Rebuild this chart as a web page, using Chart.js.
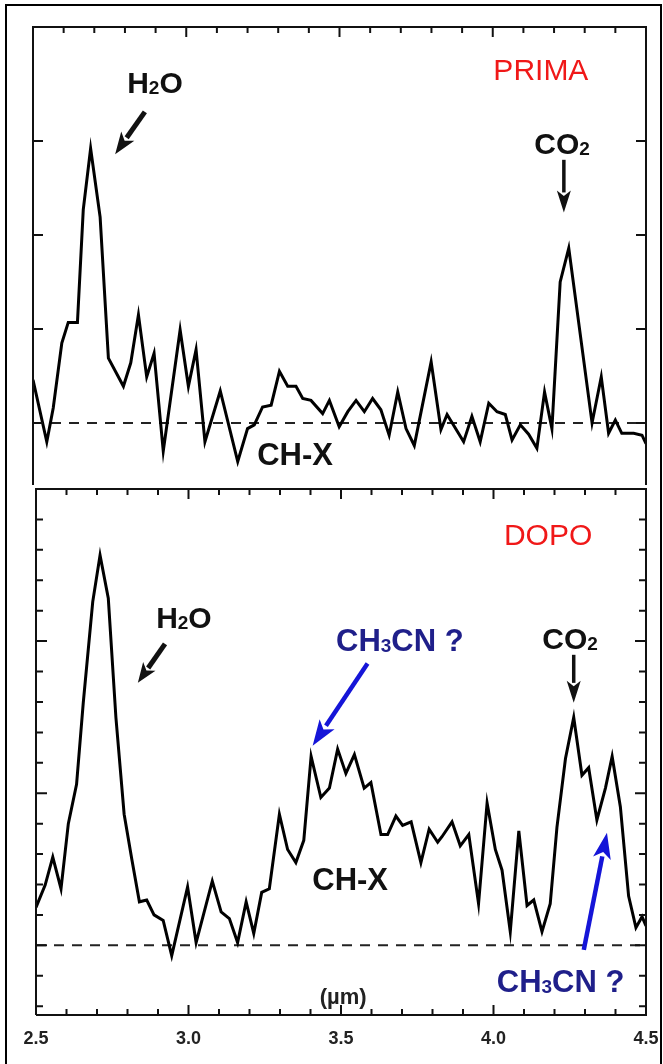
<!DOCTYPE html>
<html>
<head>
<meta charset="utf-8">
<script src="https://cdn.jsdelivr.net/npm/chart.js@4.4.1/dist/chart.umd.min.js"></script>
<style>
  body { margin: 0; background: #fff; }
  #wrap { position: relative; width: 663px; height: 1064px; overflow: hidden; background: #fff; }
  #frame { position: absolute; left: 5px; top: 4px; width: 657px; height: 1080px; border: 2px solid #000; box-sizing: border-box; }
  canvas { position: absolute; left: 0; }
  #top { top: 0; }
  #bottom { top: 480px; }
</style>
</head>
<body>
<div id="wrap">
  <div id="frame"></div>
  <canvas id="top" width="663" height="490"></canvas>
  <canvas id="bottom" width="663" height="584"></canvas>
</div>
<script>
// wavelength (um) and relative intensity
const primaWl = [2.500, 2.545, 2.566, 2.594, 2.615, 2.645, 2.664, 2.688, 2.719, 2.746, 2.795, 2.819, 2.844, 2.871, 2.895, 2.925, 2.980, 3.007, 3.032, 3.061,
  3.111, 3.168, 3.200, 3.222, 3.249, 3.277, 3.304, 3.331, 3.358, 3.380, 3.407, 3.445, 3.467, 3.499, 3.527, 3.554, 3.581, 3.608, 3.635, 3.662,
  3.690, 3.717, 3.744, 3.799, 3.831, 3.851, 3.905, 3.932, 3.959, 3.987, 4.014, 4.041, 4.063, 4.090, 4.117, 4.144, 4.169, 4.193, 4.220, 4.248,
  4.324, 4.354, 4.378, 4.400, 4.421, 4.460, 4.487, 4.500];
const primaVal = [0.46, -0.20, 0.16, 0.85, 1.07, 1.07, 2.27, 2.92, 2.19, 0.69, 0.39, 0.64, 1.15, 0.49, 0.74, -0.30, 0.99, 0.39, 0.78, -0.20,
  0.34, -0.41, -0.06, -0.02, 0.17, 0.19, 0.55, 0.39, 0.39, 0.26, 0.24, 0.10, 0.24, -0.04, 0.12, 0.24, 0.12, 0.26, 0.14, -0.13,
  0.33, -0.06, -0.24, 0.65, -0.07, 0.09, -0.20, 0.07, -0.20, 0.21, 0.12, 0.09, -0.18, -0.02, -0.12, -0.27, 0.33, -0.06, 1.50, 1.86,
  0.00, 0.49, -0.11, 0.03, -0.11, -0.11, -0.13, -0.22];

const dopoWl = [2.500, 2.530, 2.555, 2.582, 2.606, 2.633, 2.655, 2.686, 2.710, 2.737, 2.762, 2.789, 2.814, 2.839, 2.863, 2.887, 2.917, 2.945, 2.997, 3.025,
  3.078, 3.107, 3.134, 3.161, 3.189, 3.214, 3.240, 3.265, 3.298, 3.325, 3.352, 3.378, 3.402, 3.434, 3.462, 3.489, 3.516, 3.544, 3.576, 3.598,
  3.631, 3.653, 3.680, 3.702, 3.730, 3.762, 3.789, 3.817, 3.831, 3.864, 3.891, 3.919, 3.951, 3.979, 4.006, 4.028, 4.055, 4.083, 4.110, 4.132,
  4.159, 4.186, 4.208, 4.236, 4.263, 4.290, 4.312, 4.339, 4.367, 4.389, 4.416, 4.443, 4.467, 4.487, 4.500];
const dopoVal = [1.25, 1.98, 2.90, 1.86, 4.00, 5.29, 7.98, 11.29, 12.82, 11.41, 7.49, 4.31, 2.84, 1.43, 1.49, 1.00, 0.82, -0.34, 1.92, 0.09,
  2.11, 1.10, 0.88, 0.09, 1.43, 0.39, 1.74, 1.86, 4.31, 3.15, 2.72, 3.45, 6.21, 4.86, 5.17, 6.45, 5.65, 6.27, 5.17, 5.35,
  3.64, 3.64, 4.25, 3.94, 4.06, 2.72, 3.82, 3.39, 3.57, 4.06, 3.27, 3.64, 1.37, 4.68, 3.15, 2.47, 0.45, 3.76, 1.31, 1.49,
  0.45, 1.37, 3.88, 6.14, 7.49, 5.59, 5.84, 4.12, 5.17, 6.21, 4.55, 1.62, 0.58, 0.94, 0.64];

const xMajor = [2.5, 3.0, 3.5, 4.0, 4.5];
const xLabels = ['2.5', '3.0', '3.5', '4.0', '4.5'];
const xMinor = [2.6, 2.7, 2.8, 2.9, 3.1, 3.2, 3.3, 3.4, 3.6, 3.7, 3.8, 3.9, 4.1, 4.2, 4.3, 4.4];
const primaYTicks = [0, 1, 2, 3];
const dopoYMajor = [0, 5, 10];
const dopoYMinor = [-2, -1, 1, 2, 3, 4, 6, 7, 8, 9, 11, 12, 13, 14];

// labels anchored in data units: [um, intensity]
const primaNotes = [
  { parts: [['H', 0], ['2', 1], ['O', 0]], at: [2.898, 3.63], color: '#111', bold: true, size: 30 },
  { parts: [['PRIMA', 0]], at: [4.157, 3.76], color: '#f01818', bold: false, size: 30 },
  { parts: [['CO', 0], ['2', 1]], at: [4.226, 2.98], color: '#111', bold: true, size: 30 },
  { parts: [['CH-X', 0]], at: [3.355, -0.33], color: '#111', bold: true, size: 31 }
];
const primaArrows = [
  { from: [2.865, 3.31], to: [2.768, 2.86], color: '#111', width: 5, head: 22, spread: 16 },
  { from: [4.232, 2.80], to: [4.232, 2.24], color: '#111', width: 3.5, head: 22, spread: 14 }
];
const dopoNotes = [
  { parts: [['DOPO', 0]], at: [4.179, 13.5], color: '#f01818', bold: false, size: 30 },
  { parts: [['H', 0], ['2', 1], ['O', 0]], at: [2.985, 10.80], color: '#111', bold: true, size: 30 },
  { parts: [['CH', 0], ['3', 1], ['CN ?', 0]], at: [3.693, 10.05], color: '#1f1f8a', bold: true, size: 31 },
  { parts: [['CO', 0], ['2', 1]], at: [4.251, 10.08], color: '#111', bold: true, size: 30 },
  { parts: [['CH-X', 0]], at: [3.530, 2.18], color: '#111', bold: true, size: 31 },
  { parts: [['CH', 0], ['3', 1], ['CN ?', 0]], at: [4.220, -1.17], color: '#1f1f8a', bold: true, size: 31 },
  { parts: [['(\u00b5m)', 0]], at: [3.507, -1.66], color: '#222', bold: true, size: 22 }
];
const dopoArrows = [
  { from: [2.923, 9.91], to: [2.834, 8.63], color: '#111', width: 5, head: 20, spread: 15 },
  { from: [3.587, 9.26], to: [3.407, 6.56], color: '#1515d8', width: 4.5, head: 26, spread: 18 },
  { from: [4.263, 9.55], to: [4.263, 7.97], color: '#111', width: 3.5, head: 22, spread: 14 },
  { from: [4.296, -0.15], to: [4.372, 3.70], color: '#1515d8', width: 4.5, head: 26, spread: 18 }
];

const FONT = "'Liberation Sans', Arial, Helvetica, sans-serif";

function drawParts(ctx, parts, cx, cy, size, color, bold) {
  const w = bold ? 'bold ' : '';
  const subSize = Math.round(size * 0.62);
  let total = 0;
  parts.forEach(([t, sub]) => {
    ctx.font = w + (sub ? subSize : size) + 'px ' + FONT;
    total += ctx.measureText(t).width;
  });
  let x = cx - total / 2;
  const base = cy + size * 0.36;
  ctx.fillStyle = color;
  ctx.textBaseline = 'alphabetic';
  ctx.textAlign = 'left';
  parts.forEach(([t, sub]) => {
    ctx.font = w + (sub ? subSize : size) + 'px ' + FONT;
    ctx.fillText(t, x, sub ? base + 1 : base);
    x += ctx.measureText(t).width;
  });
}

function drawArrow(ctx, x1, y1, x2, y2, a) {
  const ang = Math.atan2(y2 - y1, x2 - x1);
  const bx = x2 - a.head * Math.cos(ang), by = y2 - a.head * Math.sin(ang);
  ctx.strokeStyle = a.color;
  ctx.fillStyle = a.color;
  ctx.lineWidth = a.width;
  ctx.lineCap = 'butt';
  ctx.beginPath();
  ctx.moveTo(x1, y1);
  ctx.lineTo(bx + 2 * Math.cos(ang), by + 2 * Math.sin(ang));
  ctx.stroke();
  const px = -Math.sin(ang) * a.spread / 2, py = Math.cos(ang) * a.spread / 2;
  ctx.beginPath();
  ctx.moveTo(x2, y2);
  ctx.lineTo(bx + px, by + py);
  ctx.lineTo(bx + 0.25 * a.head * Math.cos(ang), by + 0.25 * a.head * Math.sin(ang));
  ctx.lineTo(bx - px, by - py);
  ctx.closePath();
  ctx.fill();
}

const decor = {
  id: 'decor',
  afterDatasetsDraw(chart, args, opts) {
    const { ctx, chartArea: a, scales: { x, y } } = chart;
    ctx.save();
    ctx.strokeStyle = '#111';
    ctx.lineWidth = 2;
    ctx.beginPath();
    ctx.moveTo(a.left, a.bottom);
    ctx.lineTo(a.left, a.top);
    ctx.lineTo(a.right, a.top);
    ctx.lineTo(a.right, a.bottom);
    if (!opts.openBottom) ctx.lineTo(a.left, a.bottom);
    ctx.stroke();

    const tick = (vals, len, bottomToo) => vals.forEach(v => {
      const px = x.getPixelForValue(v);
      ctx.beginPath();
      ctx.moveTo(px, a.top); ctx.lineTo(px, a.top + len);
      if (bottomToo) { ctx.moveTo(px, a.bottom); ctx.lineTo(px, a.bottom - len); }
      ctx.stroke();
    });
    tick(xMinor, 6, !opts.openBottom);
    tick(xMajor, 10, !opts.openBottom);
    const ytick = (vals, len) => vals.forEach(v => {
      const py = y.getPixelForValue(v);
      ctx.beginPath();
      ctx.moveTo(a.left, py); ctx.lineTo(a.left + len, py);
      ctx.moveTo(a.right, py); ctx.lineTo(a.right - len, py);
      ctx.stroke();
    });
    opts.yTicks.forEach(([vals, len]) => ytick(vals, len));

    if (opts.labels) {
      ctx.fillStyle = '#222';
      ctx.font = 'bold 18px ' + FONT;
      ctx.textAlign = 'center';
      ctx.textBaseline = 'middle';
      xMajor.forEach((v, i) => ctx.fillText(xLabels[i], x.getPixelForValue(v), a.bottom + 24));
    }

    opts.arrows.forEach(ar => drawArrow(ctx,
      x.getPixelForValue(ar.from[0]), y.getPixelForValue(ar.from[1]),
      x.getPixelForValue(ar.to[0]), y.getPixelForValue(ar.to[1]), ar));
    opts.notes.forEach(n => drawParts(ctx, n.parts,
      x.getPixelForValue(n.at[0]), y.getPixelForValue(n.at[1]), n.size, n.color, n.bold));
    ctx.restore();
  }
};

function makeChart(id, wl, vals, yMin, yMax, padding, decorOpts) {
  return new Chart(document.getElementById(id), {
    type: 'line',
    data: {
      datasets: [
        {
          data: wl.map((w, i) => ({ x: w, y: vals[i] })),
          borderColor: '#000',
          borderWidth: 3,
          pointRadius: 0,
          tension: 0,
          fill: false
        },
        {
          data: [{ x: 2.5, y: 0 }, { x: 4.5, y: 0 }],
          borderColor: '#222',
          borderWidth: 2,
          borderDash: [10, 8],
          pointRadius: 0,
          fill: false
        }
      ]
    },
    options: {
      responsive: false,
      animation: false,
      events: [],
      layout: { padding },
      plugins: { legend: { display: false }, tooltip: { enabled: false }, decor: decorOpts },
      scales: {
        x: { type: 'linear', min: 2.5, max: 4.5, display: false },
        y: { type: 'linear', min: yMin, max: yMax, display: false }
      }
    },
    plugins: [decor]
  });
}

makeChart('top', primaWl, primaVal, -0.66, 4.213,
  { left: 33, right: 17, top: 27, bottom: 5 },
  { openBottom: true, labels: false, yTicks: [[primaYTicks, 10]], notes: primaNotes, arrows: primaArrows });

makeChart('bottom', dopoWl, dopoVal, -2.29, 15,
  { left: 36, right: 17, top: 9, bottom: 49 },
  { openBottom: false, labels: true, yTicks: [[dopoYMinor, 7], [dopoYMajor, 11]], notes: dopoNotes, arrows: dopoArrows });
</script>
</body>
</html>
